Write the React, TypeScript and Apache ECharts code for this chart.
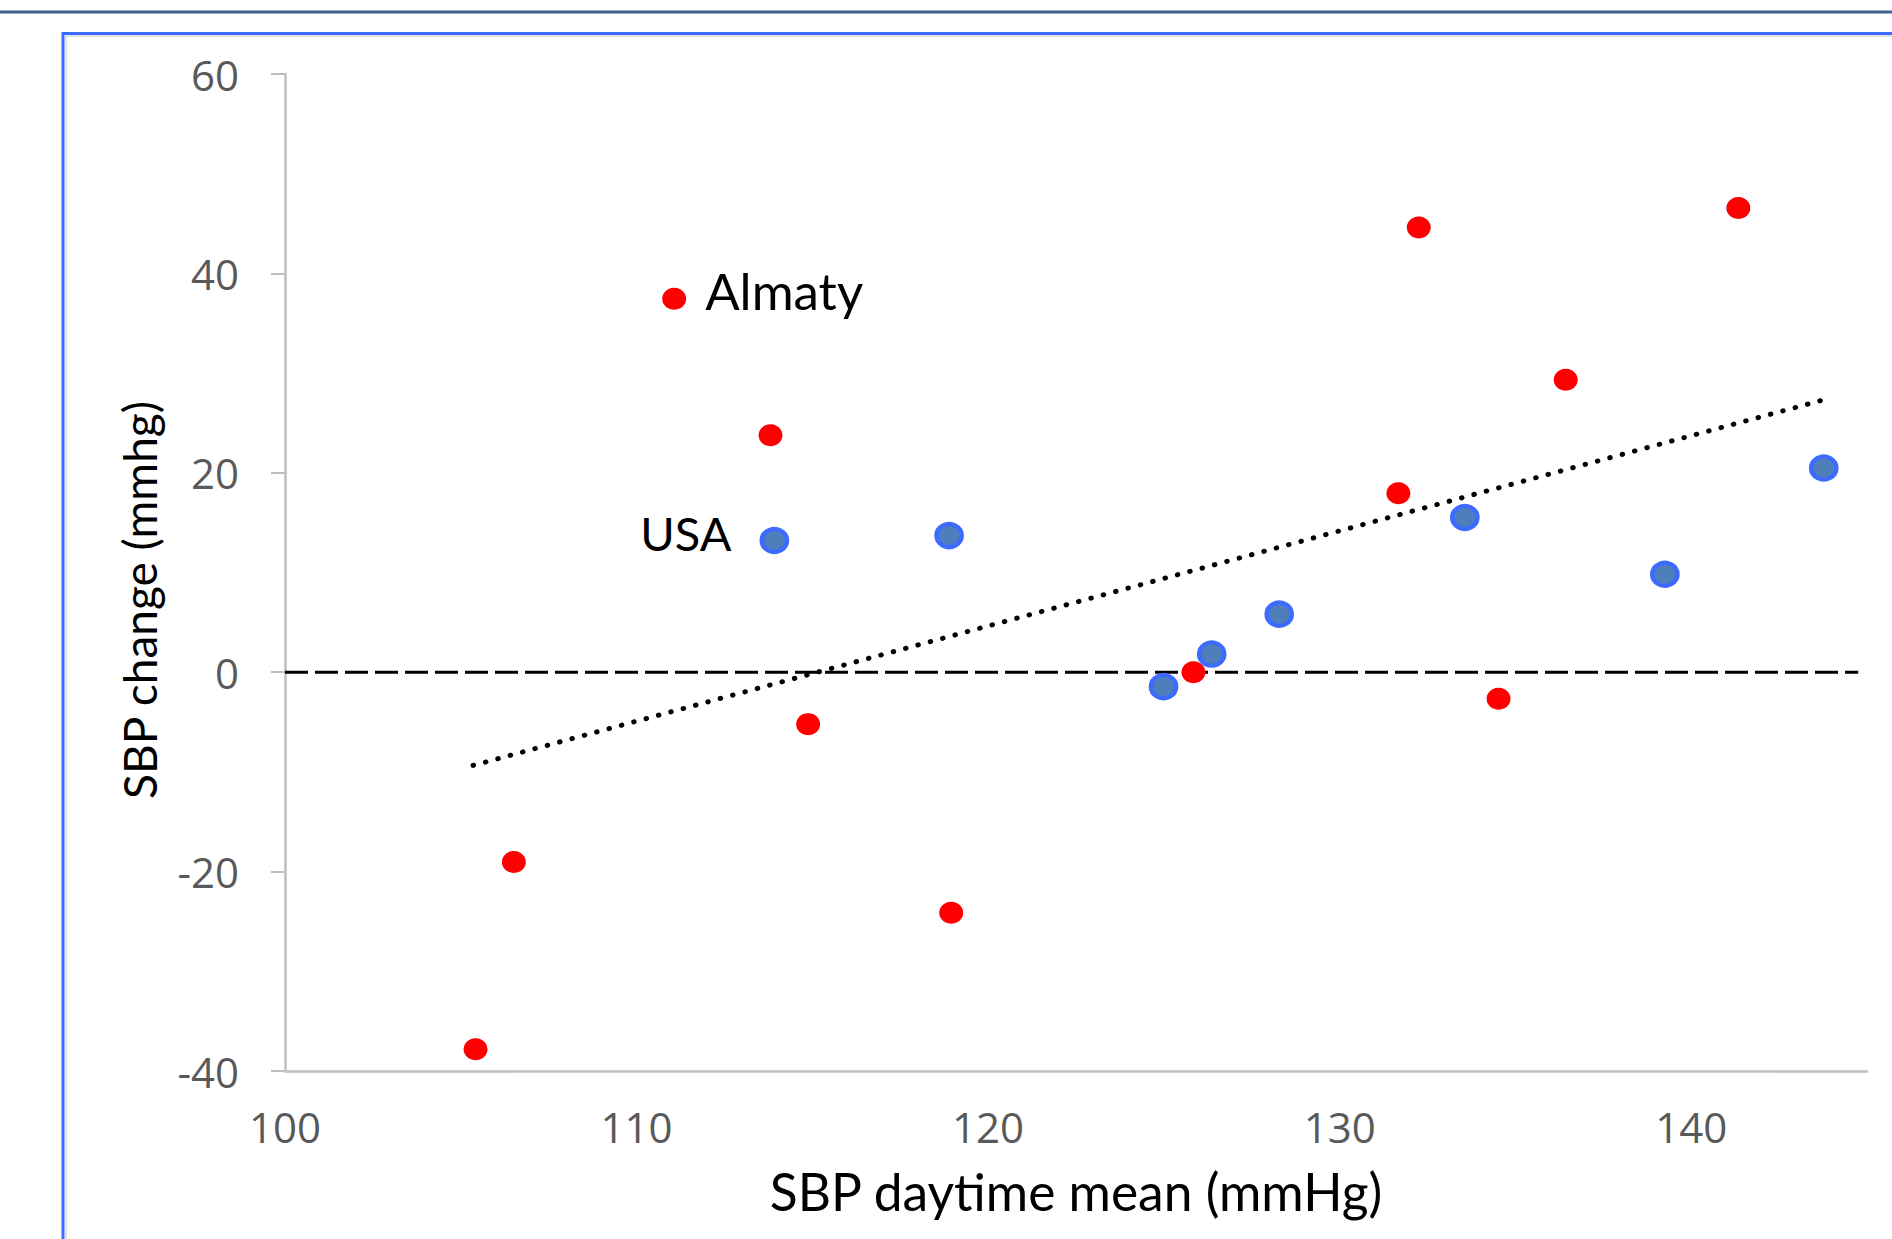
import React, { useEffect, useRef } from "react";
import * as echarts from "echarts";

// Red series (SBP daytime mean, SBP change)
const redX = [111.07, 113.81, 132.25, 141.34, 136.43, 131.67, 125.84, 134.52, 114.88, 106.51, 118.95, 105.42];
const redY = [37.45, 23.76, 44.6, 46.55, 29.33, 17.94, 0.0, -2.67, -5.21, -19.03, -24.12, -37.82];
const redLabels = ["Almaty", "", "", "", "", "", "", "", "", "", "", ""];

// Blue series
const blueX = [113.92, 118.89, 124.99, 126.36, 128.28, 133.56, 139.25, 143.77];
const blueY = [13.21, 13.7, -1.45, 1.82, 5.82, 15.52, 9.82, 20.48];
const blueLabels = ["USA", "", "", "", "", "", "", ""];

// Reference line at zero and linear trend line end points
const zeroLineX = [100, 144.75];
const zeroLineY = [0, 0];
const trendX = [105.35, 143.75];
const trendY = [-9.35, 27.3];

const xTicks = [100, 110, 120, 130, 140];

export default function App() {
  const ref = useRef<HTMLDivElement>(null);
  useEffect(() => {
    if (!ref.current) return;
    const chart = echarts.init(ref.current, undefined, { renderer: "svg" });
    const titleFont = "Lato, 'Open Sans', sans-serif";
    const tickFont = "'Open Sans', sans-serif";
    chart.setOption({
      animation: false,
      backgroundColor: "#ffffff",
      grid: { left: 285, right: 25, top: 74, bottom: 168, containLabel: false },
      xAxis: {
        type: "value",
        min: 100,
        max: 145,
        interval: 10,
        name: "SBP daytime mean (mmHg)",
        nameLocation: "middle",
        nameGap: 94,
        nameTextStyle: { fontFamily: titleFont, fontSize: 51.5, color: "#000000" },
        axisLine: { show: true, onZero: false, lineStyle: { color: "#bfbfbf", width: 2.5 } },
        axisTick: { show: false },
        splitLine: { show: false },
        axisLabel: {
          margin: 34,
          fontFamily: tickFont,
          fontSize: 42,
          color: "#595959",
          formatter: (v: number) => (xTicks.indexOf(v) >= 0 ? String(v) : ""),
        },
      },
      yAxis: {
        type: "value",
        min: -40,
        max: 60,
        interval: 20,
        axisLine: { show: true, onZero: false, lineStyle: { color: "#bfbfbf", width: 2.5 } },
        axisTick: { show: true, inside: false, length: 14, lineStyle: { color: "#bfbfbf", width: 2 } },
        splitLine: { show: false },
        axisLabel: { margin: 46, fontFamily: tickFont, fontSize: 42, color: "#595959" },
      },
      graphic: [
        { type: "line", shape: { x1: 0, y1: 12, x2: 1892, y2: 12 }, style: { stroke: "#3f6193", lineWidth: 3 }, silent: true },
        { type: "line", shape: { x1: 66, y1: 36, x2: 1892, y2: 36 }, style: { stroke: "#e3e3e3", lineWidth: 2 }, silent: true },
        { type: "line", shape: { x1: 66, y1: 36, x2: 66, y2: 1239 }, style: { stroke: "#e3e3e3", lineWidth: 2 }, silent: true },
        { type: "rect", shape: { x: 63, y: 33.5, width: 2000, height: 1400 }, style: { stroke: "#3d6bff", fill: "none", lineWidth: 3 }, silent: true },
        {
          type: "text",
          x: 139,
          y: 600,
          rotation: Math.PI / 2,
          style: { text: "SBP change (mmhg)", fontFamily: titleFont, fontSize: 46, fill: "#000000", align: "center", verticalAlign: "middle" },
          silent: true,
        },
      ],
      series: [
        {
          type: "line",
          data: zeroLineX.map((x, i) => [x, zeroLineY[i]]),
          symbol: "none",
          lineStyle: { color: "#000000", width: 3, type: [23, 7] },
          z: 1,
        },
        {
          type: "line",
          data: trendX.map((x, i) => [x, trendY[i]]),
          symbol: "none",
          lineStyle: { color: "#000000", width: 5, type: [0.5, 12.3], cap: "round" },
          z: 1,
        },
        {
          type: "scatter",
          symbol: "circle",
          symbolSize: [24, 22],
          itemStyle: { color: "#ff0000", opacity: 1 },
          z: 3,
          data: redX.map((x, i) => ({
            value: [x, redY[i]],
            label: redLabels[i]
              ? { show: true, position: "right", distance: 19, offset: [0, -8], formatter: redLabels[i], fontFamily: titleFont, fontSize: 51, color: "#000000" }
              : { show: false },
          })),
        },
        {
          type: "scatter",
          symbol: "circle",
          symbolSize: [25, 23],
          itemStyle: { color: "#4f7fbb", borderColor: "#3d6bff", borderWidth: 4.5, opacity: 1 },
          z: 3,
          data: blueX.map((x, i) => ({
            value: [x, blueY[i]],
            label: blueLabels[i]
              ? { show: true, position: "left", distance: 28, offset: [0, -7], formatter: blueLabels[i], fontFamily: titleFont, fontSize: 47, color: "#000000" }
              : { show: false },
          })),
        },
      ],
    });
    return () => chart.dispose();
  }, []);
  return <div ref={ref} style={{ position: "fixed", left: 0, top: 0, width: 1892, height: 1239 }} />;
}
